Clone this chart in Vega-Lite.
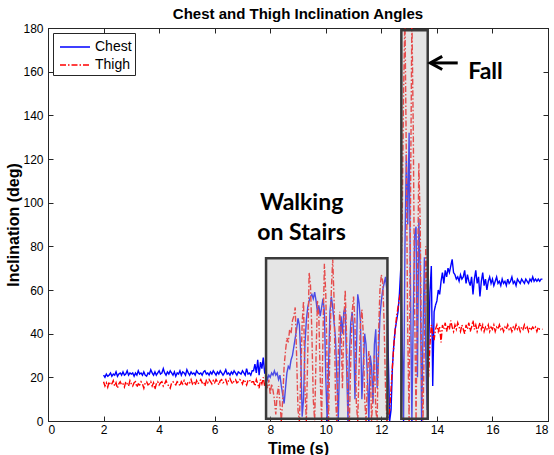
{
"$schema": "https://vega.github.io/schema/vega-lite/v6.json",
"width": 500, "height": 393,
"autosize": "none",
"padding": {"left": 48, "top": 28, "right": 6, "bottom": 34},
"background": "white",
"title": {"text": "Chest and Thigh Inclination Angles", "font": "Liberation Sans", "fontSize": 15, "fontWeight": "bold", "color": "#000000", "offset": 0, "anchor": "middle"},
"config": {"view": {"stroke": "#262626", "strokeWidth": 1}},
"layer": [
{
"data": {"values": [
{"t":2.00,"Chest":21,"Thigh":18},{"t":2.05,"Chest":20,"Thigh":16},{"t":2.10,"Chest":21.5,"Thigh":17.5},{"t":2.15,"Chest":20.5,"Thigh":15.5},{"t":2.20,"Chest":21,"Thigh":18},
{"t":2.25,"Chest":22,"Thigh":16.5},{"t":2.30,"Chest":20.5,"Thigh":17},{"t":2.35,"Chest":21.5,"Thigh":18.5},{"t":2.40,"Chest":21,"Thigh":16},{"t":2.45,"Chest":22.5,"Thigh":17.5},
{"t":2.50,"Chest":20.5,"Thigh":15},{"t":2.55,"Chest":21.5,"Thigh":17},{"t":2.60,"Chest":22,"Thigh":18},{"t":2.65,"Chest":21,"Thigh":16.5},{"t":2.70,"Chest":22.5,"Thigh":17},
{"t":2.75,"Chest":21,"Thigh":15.5},{"t":2.80,"Chest":21.5,"Thigh":18},{"t":2.85,"Chest":23,"Thigh":17},{"t":2.90,"Chest":21,"Thigh":16},{"t":2.95,"Chest":22,"Thigh":18.5},
{"t":3.00,"Chest":21.5,"Thigh":17},{"t":3.05,"Chest":22,"Thigh":16},{"t":3.10,"Chest":20.5,"Thigh":17.5},{"t":3.15,"Chest":22,"Thigh":18},{"t":3.20,"Chest":21,"Thigh":15.5},
{"t":3.25,"Chest":23,"Thigh":17},{"t":3.30,"Chest":21.5,"Thigh":16.5},{"t":3.35,"Chest":22,"Thigh":18},{"t":3.40,"Chest":21,"Thigh":17},{"t":3.45,"Chest":22.5,"Thigh":15},
{"t":3.50,"Chest":21,"Thigh":17.5},{"t":3.55,"Chest":20.5,"Thigh":18},{"t":3.60,"Chest":22,"Thigh":16.5},{"t":3.65,"Chest":21.5,"Thigh":17},{"t":3.70,"Chest":23.5,"Thigh":18},
{"t":3.75,"Chest":22,"Thigh":16},{"t":3.80,"Chest":21,"Thigh":17.5},{"t":3.85,"Chest":22.5,"Thigh":14.5},{"t":3.90,"Chest":21,"Thigh":17},{"t":3.95,"Chest":22,"Thigh":18},
{"t":4.00,"Chest":23,"Thigh":16.5},{"t":4.05,"Chest":21.5,"Thigh":17.5},{"t":4.10,"Chest":22,"Thigh":18},{"t":4.15,"Chest":24,"Thigh":16},{"t":4.20,"Chest":22,"Thigh":17},
{"t":4.25,"Chest":21,"Thigh":18.5},{"t":4.30,"Chest":22.5,"Thigh":17},{"t":4.35,"Chest":21.5,"Thigh":16},{"t":4.40,"Chest":23,"Thigh":15},{"t":4.45,"Chest":22,"Thigh":17.5},
{"t":4.50,"Chest":21,"Thigh":18},{"t":4.55,"Chest":22.5,"Thigh":17},{"t":4.60,"Chest":20.5,"Thigh":16.5},{"t":4.65,"Chest":22,"Thigh":18},{"t":4.70,"Chest":21.5,"Thigh":17.5},
{"t":4.75,"Chest":23,"Thigh":16},{"t":4.80,"Chest":21,"Thigh":18},{"t":4.85,"Chest":22.5,"Thigh":17},{"t":4.90,"Chest":22,"Thigh":18.5},{"t":4.95,"Chest":21,"Thigh":17},
{"t":5.00,"Chest":23.5,"Thigh":16.5},{"t":5.05,"Chest":22,"Thigh":18},{"t":5.10,"Chest":21,"Thigh":17.5},{"t":5.15,"Chest":22.5,"Thigh":19},{"t":5.20,"Chest":21.5,"Thigh":17},
{"t":5.25,"Chest":22,"Thigh":18},{"t":5.30,"Chest":21,"Thigh":16.5},{"t":5.35,"Chest":23,"Thigh":18.5},{"t":5.40,"Chest":22,"Thigh":17},{"t":5.45,"Chest":21.5,"Thigh":18},
{"t":5.50,"Chest":22,"Thigh":19},{"t":5.55,"Chest":21,"Thigh":17.5},{"t":5.60,"Chest":22.5,"Thigh":18},{"t":5.65,"Chest":23,"Thigh":16},{"t":5.70,"Chest":21.5,"Thigh":18.5},
{"t":5.75,"Chest":22,"Thigh":17.5},{"t":5.80,"Chest":21,"Thigh":19},{"t":5.85,"Chest":22.5,"Thigh":18},{"t":5.90,"Chest":21.5,"Thigh":17},{"t":5.95,"Chest":23,"Thigh":18.5},
{"t":6.00,"Chest":22,"Thigh":17.5},{"t":6.05,"Chest":21,"Thigh":19},{"t":6.10,"Chest":22.5,"Thigh":18},{"t":6.15,"Chest":21.5,"Thigh":16.5},{"t":6.20,"Chest":23,"Thigh":18.5},
{"t":6.25,"Chest":22,"Thigh":19},{"t":6.30,"Chest":21,"Thigh":17.5},{"t":6.35,"Chest":22,"Thigh":18},{"t":6.40,"Chest":23.5,"Thigh":19},{"t":6.45,"Chest":21.5,"Thigh":17},
{"t":6.50,"Chest":22,"Thigh":18.5},{"t":6.55,"Chest":21,"Thigh":19.5},{"t":6.60,"Chest":22.5,"Thigh":18},{"t":6.65,"Chest":21.5,"Thigh":17},{"t":6.70,"Chest":23,"Thigh":18.5},
{"t":6.75,"Chest":22,"Thigh":19},{"t":6.80,"Chest":21,"Thigh":17.5},{"t":6.85,"Chest":22.5,"Thigh":18},{"t":6.90,"Chest":22,"Thigh":19},{"t":6.95,"Chest":21.5,"Thigh":18.5},
{"t":7.00,"Chest":23,"Thigh":17},{"t":7.05,"Chest":22,"Thigh":19},{"t":7.10,"Chest":21,"Thigh":18},{"t":7.15,"Chest":24,"Thigh":16.5},{"t":7.20,"Chest":21.5,"Thigh":18.5},
{"t":7.25,"Chest":22,"Thigh":19},{"t":7.30,"Chest":21,"Thigh":17.5},{"t":7.35,"Chest":23,"Thigh":18},
{"t":7.40,"Chest":23,"Thigh":18},{"t":7.45,"Chest":26,"Thigh":16},{"t":7.50,"Chest":22,"Thigh":19},{"t":7.55,"Chest":28,"Thigh":17},{"t":7.60,"Chest":21,"Thigh":15},
{"t":7.65,"Chest":27,"Thigh":19},{"t":7.70,"Chest":24,"Thigh":17},{"t":7.75,"Chest":29,"Thigh":20},{"t":7.80,"Chest":22,"Thigh":16},
{"t":7.85,"Chest":22,"Thigh":18},{"t":7.90,"Chest":19,"Thigh":15},{"t":7.95,"Chest":21,"Thigh":19},{"t":8.00,"Chest":20,"Thigh":12},{"t":8.05,"Chest":22,"Thigh":17},
{"t":8.10,"Chest":21,"Thigh":14},{"t":8.15,"Chest":23,"Thigh":10},{"t":8.20,"Chest":21,"Thigh":3},{"t":8.25,"Chest":22,"Thigh":12},{"t":8.30,"Chest":19,"Thigh":16},
{"t":8.35,"Chest":21,"Thigh":8},{"t":8.40,"Chest":16,"Thigh":0},{"t":8.45,"Chest":12,"Thigh":10},{"t":8.50,"Chest":8,"Thigh":25},{"t":8.55,"Chest":15,"Thigh":32},
{"t":8.60,"Chest":22,"Thigh":38},{"t":8.65,"Chest":25,"Thigh":36},{"t":8.70,"Chest":24,"Thigh":42},{"t":8.75,"Chest":28,"Thigh":40},{"t":8.80,"Chest":30,"Thigh":46},
{"t":8.85,"Chest":34,"Thigh":48},{"t":8.90,"Chest":38,"Thigh":52},{"t":8.95,"Chest":42,"Thigh":30},{"t":9.00,"Chest":47,"Thigh":5},{"t":9.05,"Chest":44,"Thigh":0},
{"t":9.10,"Chest":30,"Thigh":20},{"t":9.15,"Chest":2,"Thigh":45},{"t":9.20,"Chest":10,"Thigh":55},{"t":9.25,"Chest":35,"Thigh":15},{"t":9.30,"Chest":46,"Thigh":0},
{"t":9.35,"Chest":52,"Thigh":30},{"t":9.40,"Chest":55,"Thigh":68},{"t":9.45,"Chest":57,"Thigh":62},{"t":9.50,"Chest":58,"Thigh":40},{"t":9.55,"Chest":56,"Thigh":10},
{"t":9.60,"Chest":59,"Thigh":0},{"t":9.65,"Chest":55,"Thigh":30},{"t":9.70,"Chest":50,"Thigh":55},{"t":9.75,"Chest":53,"Thigh":48},{"t":9.80,"Chest":48,"Thigh":20},
{"t":9.85,"Chest":52,"Thigh":0},{"t":9.90,"Chest":56,"Thigh":40},{"t":9.95,"Chest":50,"Thigh":72},{"t":10.00,"Chest":20,"Thigh":58},{"t":10.05,"Chest":0,"Thigh":25},
{"t":10.10,"Chest":25,"Thigh":0},{"t":10.15,"Chest":50,"Thigh":35},{"t":10.20,"Chest":57,"Thigh":60},{"t":10.25,"Chest":52,"Thigh":74},{"t":10.30,"Chest":45,"Thigh":55},
{"t":10.35,"Chest":38,"Thigh":10},{"t":10.40,"Chest":20,"Thigh":0},{"t":10.45,"Chest":0,"Thigh":30},{"t":10.50,"Chest":30,"Thigh":50},{"t":10.55,"Chest":48,"Thigh":42},
{"t":10.60,"Chest":40,"Thigh":15},{"t":10.65,"Chest":50,"Thigh":45},{"t":10.70,"Chest":52,"Thigh":60},{"t":10.75,"Chest":25,"Thigh":38},{"t":10.80,"Chest":0,"Thigh":5},
{"t":10.85,"Chest":30,"Thigh":0},{"t":10.90,"Chest":45,"Thigh":28},{"t":10.95,"Chest":50,"Thigh":50},{"t":11.00,"Chest":42,"Thigh":57},{"t":11.05,"Chest":10,"Thigh":45},
{"t":11.10,"Chest":30,"Thigh":8},{"t":11.15,"Chest":58,"Thigh":0},{"t":11.20,"Chest":54,"Thigh":25},{"t":11.25,"Chest":45,"Thigh":45},{"t":11.30,"Chest":10,"Thigh":51},
{"t":11.35,"Chest":25,"Thigh":40},{"t":11.40,"Chest":40,"Thigh":10},{"t":11.45,"Chest":35,"Thigh":0},{"t":11.50,"Chest":20,"Thigh":20},{"t":11.55,"Chest":0,"Thigh":32},
{"t":11.60,"Chest":30,"Thigh":25},{"t":11.65,"Chest":25,"Thigh":0},{"t":11.70,"Chest":8,"Thigh":12},{"t":11.75,"Chest":35,"Thigh":30},{"t":11.80,"Chest":42,"Thigh":5},
{"t":11.85,"Chest":15,"Thigh":0},{"t":11.90,"Chest":30,"Thigh":40},{"t":11.95,"Chest":48,"Thigh":60},{"t":12.00,"Chest":55,"Thigh":67},{"t":12.05,"Chest":60,"Thigh":64},
{"t":12.10,"Chest":63,"Thigh":45},{"t":12.15,"Chest":66,"Thigh":15},{"t":12.20,"Chest":60,"Thigh":0},{"t":12.25,"Chest":30,"Thigh":2},{"t":12.30,"Chest":0,"Thigh":5},
{"t":12.35,"Chest":5,"Thigh":15},{"t":12.40,"Chest":25,"Thigh":25},{"t":12.45,"Chest":35,"Thigh":35},{"t":12.50,"Chest":42,"Thigh":42},{"t":12.55,"Chest":46,"Thigh":48},
{"t":12.60,"Chest":50,"Thigh":52},{"t":12.65,"Chest":58,"Thigh":56},{"t":12.70,"Chest":70,"Thigh":60},{"t":12.75,"Chest":40,"Thigh":90},{"t":12.80,"Chest":0,"Thigh":150},
{"t":12.85,"Chest":80,"Thigh":186},{"t":12.90,"Chest":122,"Thigh":120},{"t":12.95,"Chest":90,"Thigh":40},{"t":13.00,"Chest":132,"Thigh":0},{"t":13.05,"Chest":60,"Thigh":100},
{"t":13.10,"Chest":0,"Thigh":186},{"t":13.15,"Chest":50,"Thigh":133},{"t":13.20,"Chest":85,"Thigh":50},{"t":13.25,"Chest":89,"Thigh":0},{"t":13.30,"Chest":20,"Thigh":60},
{"t":13.35,"Chest":93,"Thigh":118},{"t":13.40,"Chest":70,"Thigh":90},{"t":13.45,"Chest":0,"Thigh":20},{"t":13.50,"Chest":40,"Thigh":0},{"t":13.55,"Chest":75,"Thigh":40},
{"t":13.60,"Chest":30,"Thigh":80},{"t":13.65,"Chest":5,"Thigh":60},{"t":13.70,"Chest":30,"Thigh":20},{"t":13.75,"Chest":59,"Thigh":35},{"t":13.80,"Chest":71,"Thigh":44},
{"t":13.85,"Chest":16,"Thigh":40},{"t":13.90,"Chest":50,"Thigh":37},{"t":13.95,"Chest":53,"Thigh":42},{"t":14.00,"Chest":55,"Thigh":44},{"t":14.05,"Chest":60,"Thigh":41},
{"t":14.10,"Chest":58,"Thigh":43},{"t":14.15,"Chest":64,"Thigh":36},{"t":14.20,"Chest":68,"Thigh":44},{"t":14.25,"Chest":63,"Thigh":42},{"t":14.30,"Chest":69,"Thigh":45},
{"t":14.35,"Chest":66,"Thigh":41},{"t":14.40,"Chest":70,"Thigh":44},{"t":14.45,"Chest":68,"Thigh":42},{"t":14.50,"Chest":71,"Thigh":46},{"t":14.55,"Chest":74,"Thigh":43},
{"t":14.60,"Chest":68,"Thigh":41},{"t":14.65,"Chest":67,"Thigh":44},{"t":14.70,"Chest":65,"Thigh":42},{"t":14.75,"Chest":66,"Thigh":45},{"t":14.80,"Chest":64,"Thigh":43},
{"t":14.85,"Chest":67,"Thigh":41},{"t":14.90,"Chest":65,"Thigh":44},{"t":14.95,"Chest":66,"Thigh":42},{"t":15.00,"Chest":69,"Thigh":40},{"t":15.05,"Chest":63,"Thigh":44},
{"t":15.10,"Chest":67,"Thigh":42},{"t":15.15,"Chest":64,"Thigh":45},{"t":15.20,"Chest":62,"Thigh":41},{"t":15.25,"Chest":66,"Thigh":43},{"t":15.30,"Chest":58,"Thigh":46},
{"t":15.35,"Chest":65,"Thigh":42},{"t":15.40,"Chest":69,"Thigh":44},{"t":15.45,"Chest":63,"Thigh":41},{"t":15.50,"Chest":66,"Thigh":43},{"t":15.55,"Chest":57,"Thigh":45},
{"t":15.60,"Chest":64,"Thigh":42},{"t":15.65,"Chest":68,"Thigh":44},{"t":15.70,"Chest":62,"Thigh":41},{"t":15.75,"Chest":65,"Thigh":43},{"t":15.80,"Chest":60,"Thigh":42},
{"t":15.85,"Chest":64,"Thigh":44},{"t":15.90,"Chest":66,"Thigh":41},{"t":15.95,"Chest":63,"Thigh":43},{"t":16.00,"Chest":65,"Thigh":42},{"t":16.05,"Chest":62,"Thigh":44},
{"t":16.10,"Chest":64,"Thigh":41},{"t":16.15,"Chest":66,"Thigh":43},{"t":16.20,"Chest":63,"Thigh":42},{"t":16.25,"Chest":64,"Thigh":44},{"t":16.30,"Chest":62,"Thigh":42},
{"t":16.35,"Chest":65,"Thigh":43},{"t":16.40,"Chest":63,"Thigh":41},{"t":16.45,"Chest":64,"Thigh":43},{"t":16.50,"Chest":62,"Thigh":42},{"t":16.55,"Chest":65,"Thigh":44},
{"t":16.60,"Chest":63,"Thigh":42},{"t":16.65,"Chest":64,"Thigh":43},{"t":16.70,"Chest":66,"Thigh":41},{"t":16.75,"Chest":63,"Thigh":43},{"t":16.80,"Chest":64,"Thigh":42},
{"t":16.85,"Chest":62,"Thigh":44},{"t":16.90,"Chest":65,"Thigh":42},{"t":16.95,"Chest":64,"Thigh":43},{"t":17.00,"Chest":63,"Thigh":41},{"t":17.05,"Chest":65,"Thigh":43},
{"t":17.10,"Chest":64,"Thigh":42},{"t":17.15,"Chest":63,"Thigh":44},{"t":17.20,"Chest":65,"Thigh":42},{"t":17.25,"Chest":64,"Thigh":43},{"t":17.30,"Chest":63,"Thigh":41},
{"t":17.35,"Chest":65,"Thigh":43},{"t":17.40,"Chest":64,"Thigh":42},{"t":17.45,"Chest":66,"Thigh":43},{"t":17.50,"Chest":64,"Thigh":42},{"t":17.55,"Chest":65,"Thigh":43},
{"t":17.60,"Chest":64,"Thigh":41},{"t":17.65,"Chest":65,"Thigh":43},{"t":17.70,"Chest":64,"Thigh":42},{"t":17.75,"Chest":65,"Thigh":42},{"t":17.80,"Chest":65,"Thigh":42}
]},
"transform": [{"fold": ["Chest", "Thigh"], "as": ["series", "angle"]}],
"mark": {"type": "line", "strokeWidth": 1.4, "clip": true},
"encoding": {
"x": {"field": "t", "type": "quantitative", "scale": {"domain": [0, 18], "nice": false},
"axis": {"orient": "bottom", "values": [0,2,4,6,8,10,12,14,16,18], "tickSize": -5, "labelPadding": 8, "labelFont": "Liberation Sans", "labelFontSize": 12, "labelColor": "#000000", "title": "Time (s)", "titleFont": "Liberation Sans", "titleFontSize": 16, "titleFontWeight": "bold", "titleColor": "#000000", "titlePadding": 5, "grid": false, "domainColor": "#262626", "tickColor": "#262626"}},
"y": {"field": "angle", "type": "quantitative", "scale": {"domain": [0, 180], "nice": false},
"axis": {"orient": "left", "values": [0,20,40,60,80,100,120,140,160,180], "tickSize": -5, "labelPadding": 10, "labelFont": "Liberation Sans", "labelFontSize": 12, "labelColor": "#000000", "title": "Inclination (deg)", "titleFont": "Liberation Sans", "titleFontSize": 16, "titleFontWeight": "bold", "titleColor": "#000000", "titlePadding": 1, "grid": false, "domainColor": "#262626", "tickColor": "#262626"}},
"color": {"field": "series", "type": "nominal", "scale": {"domain": ["Chest", "Thigh"], "range": ["#0000ff", "#ff0000"]},
"legend": {"title": null, "orient": "top-left", "offset": 5, "fillColor": "white", "strokeColor": "#262626", "padding": 3, "labelFont": "Liberation Sans", "labelFontSize": 14, "labelColor": "#000000", "symbolType": "M-0.7,0L2.3,0", "symbolSize": 400, "symbolStrokeWidth": 1.5, "rowPadding": 0, "labelOffset": 17}},
"strokeDash": {"field": "series", "type": "nominal", "scale": {"domain": ["Chest", "Thigh"], "range": [[1, 0], [6, 2, 1.5, 2]]},
"legend": {"title": null, "orient": "top-left", "offset": 5, "fillColor": "white", "strokeColor": "#262626", "padding": 3, "labelFont": "Liberation Sans", "labelFontSize": 14, "labelColor": "#000000", "symbolType": "M-0.7,0L2.3,0", "symbolSize": 400, "symbolStrokeWidth": 1.5, "rowPadding": 0, "labelOffset": 17}}
}
},
{
"data": {"values": [{"x1": 7.85, "x2": 12.22, "y1": 1, "y2": 74.5}, {"x1": 12.72, "x2": 13.67, "y1": 1, "y2": 179}]},
"mark": {"type": "rect", "fill": "#bfbfbf", "fillOpacity": 0.4, "stroke": "#3a3a3a", "strokeWidth": 2.5},
"encoding": {
"x": {"field": "x1", "type": "quantitative", "axis": {"orient": "top", "values": [0,2,4,6,8,10,12,14,16,18], "labels": false, "title": null, "tickSize": -5, "grid": false, "domainColor": "#262626", "tickColor": "#262626"}},
"x2": {"field": "x2"},
"y": {"field": "y1", "type": "quantitative", "axis": {"orient": "right", "values": [0,20,40,60,80,100,120,140,160,180], "labels": false, "title": null, "tickSize": -5, "grid": false, "domainColor": "#262626", "tickColor": "#262626"}},
"y2": {"field": "y2"}
}
},
{
"data": {"values": [{"t": 9.13, "a": 100, "label": "Walking"}, {"t": 9.13, "a": 86, "label": "on Stairs"}, {"t": 15.75, "a": 160, "label": "Fall"}]},
"mark": {"type": "text", "font": "Lato", "fontWeight": "bold", "fontSize": 23, "color": "#000000", "baseline": "middle", "align": "center"},
"encoding": {
"x": {"field": "t", "type": "quantitative", "axis": null},
"y": {"field": "a", "type": "quantitative", "axis": null},
"text": {"field": "label"}
}
},
{
"data": {"values": [{"t1": 13.8, "t2": 14.75, "a": 164}]},
"mark": {"type": "rule", "color": "#000000", "strokeWidth": 3},
"encoding": {
"x": {"field": "t1", "type": "quantitative", "axis": null},
"x2": {"field": "t2"},
"y": {"field": "a", "type": "quantitative", "axis": null}
}
},
{
"data": {"values": [{"t": 13.76, "a": 164}]},
"mark": {"type": "point", "shape": "M1,-0.55L0,0L1,0.55", "size": 576, "filled": false, "stroke": "#000000", "strokeWidth": 3, "opacity": 1},
"encoding": {
"x": {"field": "t", "type": "quantitative", "axis": null},
"y": {"field": "a", "type": "quantitative", "axis": null}
}
}
],
"resolve": {"axis": {"x": "independent", "y": "independent"}}
}
